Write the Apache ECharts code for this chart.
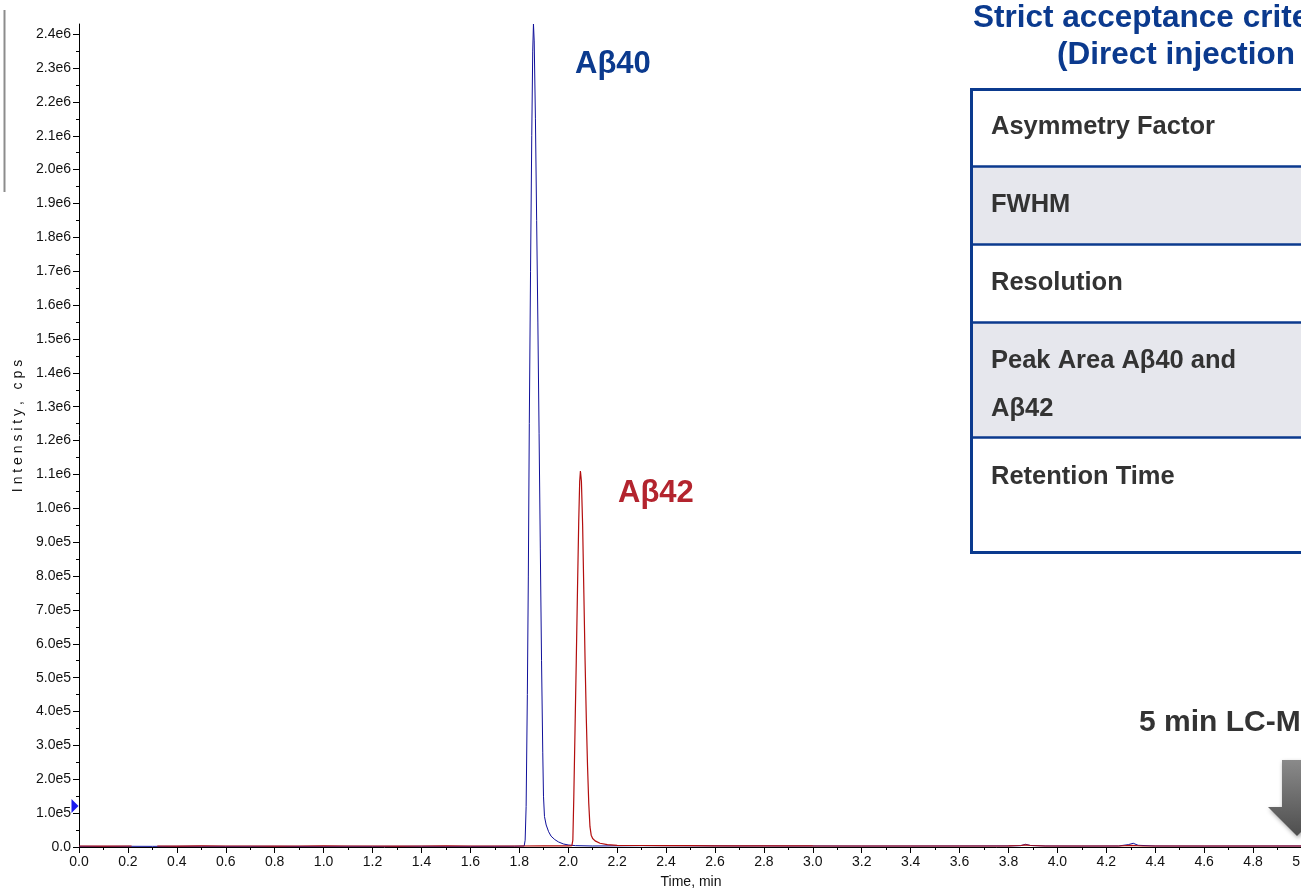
<!DOCTYPE html>
<html>
<head>
<meta charset="utf-8">
<script src="https://cdn.jsdelivr.net/npm/echarts@6/dist/echarts.min.js"></script>
<style>
  html, body { margin: 0; padding: 0; background: #ffffff; }
  #chart { width: 1301px; height: 890px; }
</style>
</head>
<body>
<div id="chart"></div>
<script>
// Extracted ion chromatogram, Aβ40 (blue) and Aβ42 (red)
const ab40Time = [0.00, 0.10, 0.20, 0.30, 0.40, 0.50, 0.60, 0.70, 0.80, 0.90, 1.00, 1.10, 1.20, 1.30, 1.40, 1.50, 1.60, 1.70, 1.78,
  1.820, 1.824, 1.828, 1.833, 1.837, 1.841, 1.846, 1.851, 1.855, 1.858, 1.861, 1.866, 1.871, 1.876, 1.881, 1.886, 1.891, 1.896,
  1.899, 1.903, 1.910, 1.920, 1.930, 1.945, 1.960, 1.980, 2.000, 2.030, 2.100, 2.200, 2.300, 2.400, 2.500, 2.600, 2.700, 2.800,
  2.900, 3.000, 3.200, 3.400, 3.600, 3.800, 3.850, 3.870, 3.890, 3.950, 4.100, 4.250, 4.290, 4.310, 4.330, 4.400, 4.600, 4.800, 5.000];
const ab40Intensity = [2000, 1800, 2100, 1900, 2000, 2200, 1900, 2000, 2100, 1800, 2000, 2100, 1900, 2000, 2200, 2000, 1900, 2100, 2300,
  3000, 20000, 120000, 450000, 800000, 1250000, 1700000, 2100000, 2350000, 2430000, 2380000, 2150000, 1850000, 1550000, 1220000, 880000, 550000, 280000,
  150000, 90000, 65000, 45000, 32000, 22000, 15000, 9000, 6000, 4000, 3000, 3500, 4000, 3800, 3500, 3300, 3000, 3200,
  2900, 3000, 2800, 2900, 3000, 3200, 4000, 8000, 4500, 3000, 2800, 3000, 7000, 11000, 5000, 3000, 2800, 2900, 3000];

const ab42Time = [0.00, 0.10, 0.215, 0.27, 0.32, 0.40, 0.50, 0.60, 0.70, 0.80, 0.90, 1.00, 1.10, 1.20, 1.30, 1.40, 1.50, 1.60, 1.70, 1.80,
  1.90, 2.000, 2.015, 2.019, 2.023, 2.028, 2.033, 2.038, 2.043, 2.047, 2.050, 2.054, 2.059, 2.064, 2.069, 2.074, 2.079, 2.084,
  2.089, 2.094, 2.100, 2.110, 2.130, 2.160, 2.200, 2.300, 2.400, 2.500, 2.600, 2.800, 3.000, 3.200, 3.400, 3.600, 3.800, 3.850,
  3.870, 3.890, 3.950, 4.100, 4.250, 4.300, 4.350, 4.500, 4.700, 4.900, 5.000];
const ab42Intensity = [3000, 2800, 3000, null, 3000, 2800, 3100, 2900, 3000, 2800, 3000, 3100, 2900, 3000, 2800, 3000, 3100, 2900, 3000, 3000,
  3100, 3200, 4000, 20000, 150000, 350000, 550000, 760000, 960000, 1080000, 1110000, 1080000, 950000, 750000, 550000, 380000, 240000, 130000,
  60000, 35000, 25000, 18000, 11000, 7000, 5000, 4500, 4000, 3800, 3500, 3300, 3100, 3000, 3000, 3000, 3200, 4500,
  6000, 4500, 3000, 3000, 3000, 5000, 3000, 3000, 2900, 3000, 3000];

const xTickStep = 0.2;
const yTickLabels = ['0.0', '1.0e5', '2.0e5', '3.0e5', '4.0e5', '5.0e5', '6.0e5', '7.0e5', '8.0e5', '9.0e5',
  '1.0e6', '1.1e6', '1.2e6', '1.3e6', '1.4e6', '1.5e6', '1.6e6', '1.7e6', '1.8e6', '1.9e6',
  '2.0e6', '2.1e6', '2.2e6', '2.3e6', '2.4e6'];
const yTop = 2430000;

const yMajor = yTickLabels.map(Number);
const yMinor = yMajor.map(v => v + 50000).filter(v => v < yTop);
const yLabelOf = {};
yMajor.forEach((v, i) => { yLabelOf[v] = yTickLabels[i]; });

const pairs = (t, v) => t.map((x, i) => [x, v[i]]);

const FONT = '"Liberation Sans", Arial, Helvetica, sans-serif';
const navy = '#0b3a8e';
const tableText = '#333333';

const chart = echarts.init(document.getElementById('chart'), null, { renderer: 'canvas' });

// table on the right: row bands, dividers, row captions
const rowEdges = [89.5, 166.5, 244.5, 322.5, 437.5, 552.5];
const rowFill = ['#ffffff', '#e6e7ed', '#ffffff', '#e6e7ed', '#ffffff'];
const rowText = [
  [['Asymmetry Factor', 127]],
  [['FWHM', 205]],
  [['Resolution', 283]],
  [['Peak Area Aβ40 and', 361], ['Aβ42', 409]],
  [['Retention Time', 477]]
];
const tableGraphics = [];
rowFill.forEach((f, i) => {
  tableGraphics.push({
    type: 'rect', silent: true,
    shape: { x: 971.5, y: rowEdges[i], width: 400, height: rowEdges[i + 1] - rowEdges[i] },
    style: { fill: f }
  });
});
rowEdges.slice(1, -1).forEach(y => {
  tableGraphics.push({
    type: 'line', silent: true,
    shape: { x1: 971.5, y1: y, x2: 1400, y2: y },
    style: { stroke: navy, lineWidth: 2.5 }
  });
});
tableGraphics.push({
  type: 'rect', silent: true,
  shape: { x: 971.5, y: 89.5, width: 400, height: 463 },
  style: { fill: 'none', stroke: navy, lineWidth: 3 }
});
rowText.forEach(lines => lines.forEach(([t, y]) => {
  tableGraphics.push({
    type: 'text', silent: true, x: 991, y: y,
    style: { text: t, fill: tableText, font: 'bold 25.5px ' + FONT, verticalAlign: 'middle', align: 'left' }
  });
}));

const option = {
  animation: false,
  backgroundColor: '#ffffff',
  grid: { left: 79, top: 24, width: 1223, height: 823, containLabel: false, outerBoundsMode: 'none' },
  xAxis: {
    type: 'value', min: 0, max: 5, interval: xTickStep,
    axisLine: { show: true, onZero: false, lineStyle: { color: '#000', width: 1 } },
    axisTick: { show: true, length: 6, lineStyle: { color: '#000' } },
    minorTick: { show: true, splitNumber: 2, length: 3, lineStyle: { color: '#000' } },
    splitLine: { show: false },
    axisLabel: { margin: 8, fontSize: 14, color: '#111', fontFamily: FONT, formatter: v => v.toFixed(1) }
  },
  yAxis: [
    {
      type: 'value', min: 0, max: yTop,
      axisLine: { show: true, onZero: false, lineStyle: { color: '#000', width: 1 } },
      axisTick: { show: true, length: 6, lineStyle: { color: '#000' }, customValues: yMajor },
      splitLine: { show: false },
      axisLabel: { margin: 8, fontSize: 14, color: '#111', fontFamily: FONT, customValues: yMajor,
        formatter: v => yLabelOf[v] !== undefined ? yLabelOf[v] : '' }
    },
    {
      type: 'value', min: 0, max: yTop, position: 'left',
      axisLine: { show: false },
      axisTick: { show: true, length: 3, lineStyle: { color: '#000' }, customValues: yMinor },
      splitLine: { show: false },
      axisLabel: { show: false }
    }
  ],
  series: [
    {
      name: 'Aβ40', type: 'line', yAxisIndex: 0, showSymbol: false, clip: false,
      data: pairs(ab40Time, ab40Intensity),
      lineStyle: { color: '#10109a', width: 1 },
      itemStyle: { color: '#10109a' },
      markPoint: {
        silent: true,
        symbol: 'triangle', symbolSize: [14, 7], symbolRotate: -90, symbolOffset: [-4, 0],
        itemStyle: { color: '#1a1aee' },
        label: { show: false },
        data: [{ coord: [0, 121000] }]
      }
    },
    {
      name: 'Aβ42', type: 'line', yAxisIndex: 0, showSymbol: false, clip: false, connectNulls: false,
      data: pairs(ab42Time, ab42Intensity),
      lineStyle: { color: '#b30e0e', width: 1.2 },
      itemStyle: { color: '#b30e0e' }
    }
  ],
  graphic: [
    { type: 'line', silent: true, shape: { x1: 4.5, y1: 10, x2: 4.5, y2: 192 }, style: { stroke: '#8c8c8c', lineWidth: 2 } },
    { type: 'text', silent: true, x: 18, y: 426, rotation: Math.PI / 2,
      style: { text: 'I n t e n s i t y ,   c p s', fill: '#111', font: '14px ' + FONT, align: 'center', verticalAlign: 'middle' } },
    { type: 'text', silent: true, x: 691, y: 882,
      style: { text: 'Time, min', fill: '#111', font: '14px ' + FONT, align: 'center', verticalAlign: 'middle' } },
    { type: 'text', silent: true, x: 575, y: 64,
      style: { text: 'Aβ40', fill: navy, font: 'bold 31px ' + FONT, align: 'left', verticalAlign: 'middle' } },
    { type: 'text', silent: true, x: 618, y: 493,
      style: { text: 'Aβ42', fill: '#b3242e', font: 'bold 31px ' + FONT, align: 'left', verticalAlign: 'middle' } },
    { type: 'text', silent: true, x: 973, y: 18,
      style: { text: 'Strict acceptance criteria', fill: navy, font: 'bold 31.5px ' + FONT, align: 'left', verticalAlign: 'middle' } },
    { type: 'text', silent: true, x: 1057, y: 55,
      style: { text: '(Direct injection', fill: navy, font: 'bold 31.5px ' + FONT, align: 'left', verticalAlign: 'middle' } },
    ...tableGraphics,
    { type: 'text', silent: true, x: 1139, y: 723,
      style: { text: '5 min LC-MS', fill: '#333333', font: 'bold 30px ' + FONT, align: 'left', verticalAlign: 'middle' } },
    { type: 'polygon', silent: true,
      shape: { points: [[1282, 760], [1312, 760], [1312, 807], [1326, 807], [1297, 836], [1268, 807], [1282, 807]] },
      style: {
        fill: new echarts.graphic.LinearGradient(0, 0, 0, 1, [
          { offset: 0, color: '#8a8a8a' }, { offset: 1, color: '#4e4e4e' }
        ]),
        shadowBlur: 4, shadowColor: 'rgba(0,0,0,0.35)', shadowOffsetX: 1, shadowOffsetY: 2
      } }
  ]
};

chart.setOption(option);
</script>
</body>
</html>
